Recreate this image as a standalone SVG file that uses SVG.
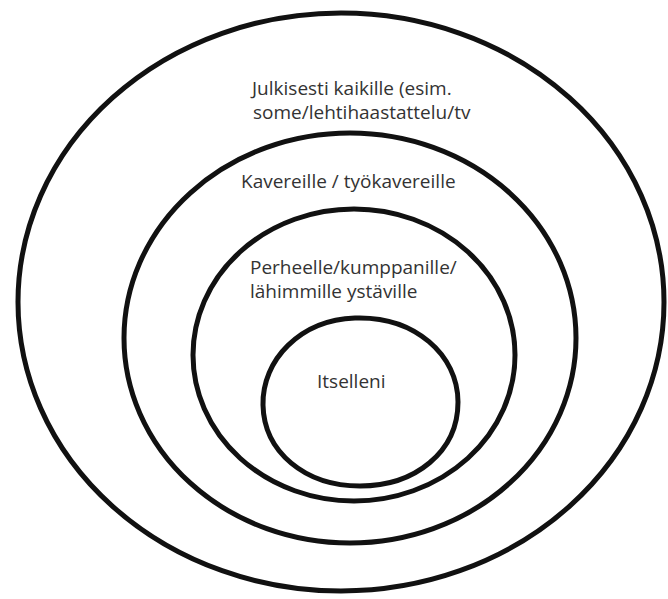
<svg xmlns="http://www.w3.org/2000/svg" width="668" height="599" viewBox="0 0 668 599">
  <style>
    .ring { fill: none; stroke: #111; stroke-width: 5; }
    .lbl { font-family: "Open Sans", "Liberation Sans", sans-serif; font-size: 19px; fill: #333; }
  </style>
  <rect x="0" y="0" width="668" height="599" fill="#fff"/>
  <g id="julkisesti">
    <ellipse class="ring" cx="341" cy="302" rx="323" ry="289"/>
    <text class="lbl" x="252" y="95">Julkisesti kaikille (esim.</text>
    <text class="lbl" x="253" y="119">some/lehtihaastattelu/tv</text>
  </g>
  <g id="kavereille">
    <ellipse class="ring" cx="350" cy="338" rx="226" ry="205"/>
    <text class="lbl" x="241" y="188">Kavereille / työkavereille</text>
  </g>
  <g id="perheelle">
    <ellipse class="ring" cx="354" cy="355" rx="161" ry="146"/>
    <text class="lbl" x="250" y="274">Perheelle/kumppanille/</text>
    <text class="lbl" x="250" y="298">lähimmille ystäville</text>
  </g>
  <g id="itselleni">
    <path class="ring" d="M 263 405 C 262 360 300 320 355 318 C 415 316 458 355 458 402 C 458 452 415 486 360 486 C 305 486 264 452 263 405 Z"/>
    <text class="lbl" x="317" y="388">Itselleni</text>
  </g>
  <g id="connectors"></g>
</svg>
